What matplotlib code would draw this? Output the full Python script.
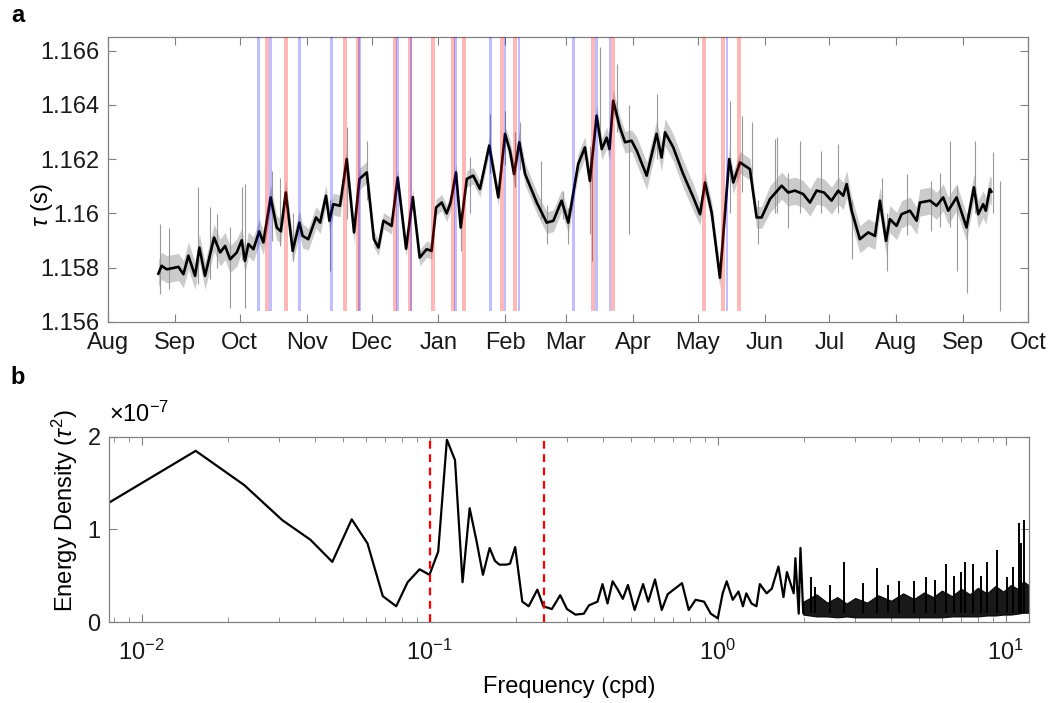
import numpy as np
import pandas as pd
import matplotlib
matplotlib.use('Agg')
import matplotlib.pyplot as plt
import matplotlib.dates as mdates
from matplotlib.ticker import LogLocator, NullFormatter

plt.rcParams['font.family'] = ['Liberation Sans', 'DejaVu Sans']
plt.rcParams['mathtext.fontset'] = 'custom'
plt.rcParams['mathtext.rm'] = 'Liberation Sans'
plt.rcParams['mathtext.it'] = 'Liberation Sans:italic'

# ---- panel a: smoothed tau (days since 2018-08-01) ----
tau_day = [23.3, 24.8, 27.2, 32.6, 34.9, 37.2, 40.3, 42.3, 44.9, 49.1, 51.9, 54.2, 56.5, 59.6,
           61.9, 63.4, 65.0, 67.3, 70.0, 71.9, 75.3, 78.1, 80.0, 82.3, 85.5, 88.6, 90.1, 92.7,
           96.3, 98.2, 100.9, 102.5, 104.3, 107.4, 110.5, 113.9, 116.4, 119.8, 123.1, 125.2,
           127.5, 131.3, 134.1, 138.0, 141.1, 144.3, 147.5, 149.8, 151.9, 154.5, 156.8, 158.6,
           161.1, 163.3, 166.1, 169.1, 172.2, 176.5, 180.7, 183.8, 186.1, 188.0, 190.4, 193.1,
           198.5, 203.1, 206.2, 210.0, 213.1, 217.7, 220.8, 223.1, 226.2, 228.6, 230.9, 232.2,
           233.9, 237.0, 239.4, 242.4, 244.8, 249.4, 254.0, 256.3, 257.9, 261.7, 266.3, 271.0,
           274.1, 276.4, 279.5, 283.3, 287.6, 289.5, 292.6, 297.2, 300.3, 302.6, 306.5, 311.9,
           314.9, 318.0, 321.9, 325.0, 328.1, 331.5, 335.0, 338.1, 340.4, 342.0, 344.3, 348.1,
           352.0, 355.1, 357.4, 360.2, 362.0, 365.1, 367.4, 371.3, 374.4, 375.9, 380.6, 383.6,
           386.7, 389.0, 392.9, 395.2, 397.5, 400.9, 402.9, 405.2, 406.4, 408.3, 409.0]
tau_val = [1.15778, 1.15807, 1.15794, 1.15803, 1.15776, 1.15844, 1.15770, 1.15874, 1.15770,
           1.15911, 1.15856, 1.15880, 1.15831, 1.15856, 1.15901, 1.15825, 1.15887, 1.15868,
           1.15934, 1.15893, 1.16059, 1.15948, 1.15934, 1.16077, 1.15862, 1.15966, 1.15917,
           1.15905, 1.15985, 1.15966, 1.16065, 1.15973, 1.16034, 1.16028, 1.16200, 1.15930,
           1.16127, 1.16151, 1.15905, 1.15874, 1.15973, 1.15954, 1.16132, 1.15870, 1.16060,
           1.15837, 1.15868, 1.15862, 1.16022, 1.16040, 1.16000, 1.16040, 1.16151, 1.15948,
           1.16127, 1.16139, 1.16090, 1.16250, 1.16059, 1.16293, 1.16231, 1.16145, 1.16262,
           1.16145, 1.16040, 1.15966, 1.15973, 1.16047, 1.15966, 1.16182, 1.16243, 1.16120,
           1.16360, 1.16237, 1.16279, 1.16237, 1.16415, 1.16317, 1.16262, 1.16268, 1.16231,
           1.16139, 1.16293, 1.16206, 1.16299, 1.16243, 1.16145, 1.16059, 1.15997, 1.16114,
           1.16003, 1.15763, 1.16200, 1.16114, 1.16188, 1.16163, 1.15985, 1.15985, 1.16053,
           1.16102, 1.16077, 1.16084, 1.16071, 1.16040, 1.16084, 1.16077, 1.16047, 1.16084,
           1.16065, 1.16108, 1.16010, 1.15905, 1.15930, 1.15917, 1.16047, 1.15899, 1.15979,
           1.15954, 1.15997, 1.16010, 1.15973, 1.16040, 1.16047, 1.16028, 1.16059, 1.16010,
           1.16059, 1.16003, 1.15948, 1.16096, 1.15997, 1.16034, 1.16010, 1.16090, 1.16080]

# typical scatter of the raw record, by calendar month (Jan..Dec)
grey_spread = [0.0003, 0.0004, 0.0004, 0.0005, 0.0004, 0.0005,
               0.0005, 0.0005, 0.0005, 0.00045, 0.0004, 0.0003]

# large excursions of the raw record
spike_day = [24.0, 28.0, 41.8, 47.0, 50.3, 56.5, 61.9, 63.4, 75.8, 79.6, 85.5, 102.8, 110.5,
             119.8, 163.3, 167.6, 176.9, 183.9, 188.4, 190.9, 200.6, 203.1, 210.6, 213.0,
             223.1, 223.9, 227.8, 235.5, 241.3, 254.0, 288.0, 293.4, 298.0, 301.0, 308.8,
             309.6, 314.8, 320.4, 330.0, 338.0, 344.3, 358.2, 360.5, 369.8, 381.0, 385.2,
             389.8, 392.9, 397.5, 401.4, 409.9, 413.0]
spike_lo = [1.15703, 1.15720, 1.15739, 1.15760, 1.15800, 1.15653, 1.15830, 1.15653, 1.15900,
            1.15880, 1.15825, 1.15788, 1.15980, 1.16050, 1.15862, 1.16000, 1.16150, 1.16180,
            1.16096, 1.16160, 1.15980, 1.15887, 1.15980, 1.15887, 1.15924, 1.15825, 1.16250,
            1.16300, 1.15924, 1.16200, 1.16000, 1.16080, 1.16080, 1.15888, 1.16000, 1.16000,
            1.15948, 1.16000, 1.16000, 1.16000, 1.15832, 1.15980, 1.15788, 1.15920, 1.15934,
            1.15950, 1.15950, 1.15788, 1.15708, 1.16000, 1.16000, 1.15641]
spike_hi = [1.15962, 1.15948, 1.16096, 1.16022, 1.15999, 1.15950, 1.16096, 1.16109, 1.16157,
            1.16132, 1.16000, 1.16050, 1.16317, 1.16268, 1.16000, 1.16206, 1.16366, 1.16379,
            1.16300, 1.16336, 1.16194, 1.16030, 1.16083, 1.16020, 1.16250, 1.16200, 1.16612,
            1.16552, 1.16400, 1.16441, 1.16415, 1.16360, 1.16335, 1.16050, 1.16275, 1.16280,
            1.16150, 1.16268, 1.16231, 1.16256, 1.16050, 1.16132, 1.16000, 1.16145, 1.16120,
            1.16150, 1.16268, 1.16100, 1.16000, 1.16268, 1.16225, 1.16120]

# event days (days since 2018-08-01)
red_day = [73.5, 82.3, 109.7, 115.6, 132.9, 139.8, 150.6, 159.6, 164.8, 182.3, 188.4,
           224.7, 233.9, 275.9, 284.9, 292.3]
blue_day = [69.6, 75.3, 88.6, 103.6, 116.3, 134.1, 140.3, 161.0, 177.2, 183.8, 190.3,
            215.4, 226.2, 232.4, 286.6]

# ---- panel b: spectrum (energy density in 1e-7 tau^2) ----
spec_f = [0.0077, 0.0154, 0.0227, 0.0308, 0.0385, 0.0459, 0.0536, 0.0608, 0.0687, 0.0765,
          0.0838, 0.0922, 0.0998, 0.107, 0.1147, 0.1224, 0.130, 0.1376, 0.1455, 0.153,
          0.1614, 0.1685, 0.1746, 0.184, 0.190, 0.198, 0.2096, 0.2206, 0.2364, 0.248,
          0.2654, 0.2838, 0.2996, 0.3207, 0.3428, 0.357, 0.3823, 0.398, 0.4143, 0.4315,
          0.4497, 0.468, 0.4877, 0.5145, 0.5505, 0.5736, 0.6056, 0.639, 0.670, 0.7025,
          0.7515, 0.793, 0.8375, 0.8964, 0.9456, 1.0, 1.04, 1.074, 1.127, 1.18,
          1.223, 1.256, 1.31, 1.362, 1.40, 1.478, 1.54, 1.624, 1.691, 1.738,
          1.835, 1.86, 1.91, 1.937, 1.98]
spec_v = [1.29, 1.85, 1.48, 1.10, 0.89, 0.65, 1.11, 0.85, 0.28, 0.17,
          0.43, 0.57, 0.51, 0.76, 1.97, 1.75, 0.43, 1.23, 0.87, 0.51,
          0.80, 0.66, 0.62, 0.62, 0.63, 0.81, 0.22, 0.17, 0.35, 0.17,
          0.14, 0.29, 0.14, 0.08, 0.09, 0.18, 0.22, 0.41, 0.20, 0.44,
          0.35, 0.25, 0.40, 0.13, 0.41, 0.22, 0.46, 0.13, 0.30, 0.35,
          0.42, 0.13, 0.24, 0.22, 0.09, 0.04, 0.31, 0.44, 0.24, 0.33,
          0.17, 0.31, 0.20, 0.17, 0.41, 0.31, 0.36, 0.60, 0.27, 0.54,
          0.31, 0.69, 0.09, 0.80, 0.10]

# dense high-frequency part: envelope and isolated peaks
band_f = [1.98, 2.2, 2.4, 2.6, 2.8, 3.0, 3.3, 3.6, 4.0, 4.4, 4.8, 5.2, 5.6, 6.0,
          6.5, 7.0, 7.5, 8.0, 8.6, 9.2, 9.8, 10.4, 11.0, 11.5, 12.0]
band_lo = [0.08, 0.06, 0.06, 0.05, 0.06, 0.05, 0.05, 0.05, 0.05, 0.05, 0.05, 0.05, 0.05,
           0.05, 0.06, 0.06, 0.06, 0.06, 0.07, 0.07, 0.08, 0.08, 0.09, 0.10, 0.10]
band_hi = [0.22, 0.30, 0.21, 0.27, 0.20, 0.26, 0.21, 0.29, 0.23, 0.31, 0.25, 0.32, 0.27,
           0.34, 0.28, 0.36, 0.30, 0.37, 0.31, 0.39, 0.33, 0.40, 0.36, 0.44, 0.40]
peak_f = [2.1, 2.17, 2.45, 2.75, 3.2, 3.56, 3.9, 4.25, 4.79, 5.27, 5.7, 6.2,
          6.6, 7.0, 7.19, 7.69, 8.2, 8.57, 9.3, 10.08, 10.6, 11.08, 11.3, 11.55]
peak_v = [0.49, 0.38, 0.40, 0.65, 0.42, 0.58, 0.40, 0.44, 0.44, 0.49, 0.45, 0.63,
          0.50, 0.54, 0.65, 0.63, 0.50, 0.65, 0.78, 0.49, 0.60, 1.07, 0.85, 1.10]

cutoff_f = [0.1, 0.25]

start = pd.Timestamp('2018-08-01')


def to_dates(days):
    return start + pd.to_timedelta(np.asarray(days), unit='D')


spine_col = '0.5'
fs = 17

fig = plt.figure(figsize=(10.51, 7.03), dpi=100)

# ---------------- panel a ----------------
ax1 = fig.add_axes([0.1028, 0.5420, 0.8754, 0.4054])
tau_dates = to_dates(tau_day)
tau_arr = np.array(tau_val)
spread = np.array([grey_spread[m - 1] for m in tau_dates.month])
ax1.fill_between(tau_dates, tau_arr - spread, tau_arr + spread,
                 color='0.55', alpha=0.45, lw=0, zorder=1)
ax1.vlines(to_dates(spike_day), spike_lo, spike_hi, color='0.6', lw=0.8, zorder=1)
ax1.plot(tau_dates, tau_arr, color='k', lw=1.9, zorder=2)

bar_bottom = 1.1564
bar_top = 1.1665
ax1.bar(to_dates(red_day), bar_top - bar_bottom, bottom=bar_bottom, width=1.9,
        color='red', alpha=0.28, lw=0, zorder=3)
ax1.bar(to_dates(blue_day), bar_top - bar_bottom, bottom=bar_bottom, width=1.3,
        color='blue', alpha=0.25, lw=0, zorder=3)

ax1.set_xlim(pd.Timestamp('2018-08-01'), pd.Timestamp('2019-10-01'))
ax1.set_ylim(1.156, 1.1665)
ax1.set_yticks([1.156, 1.158, 1.160, 1.162, 1.164, 1.166])
ax1.set_yticklabels(['1.156', '1.158', '1.16', '1.162', '1.164', '1.166'])
ax1.xaxis.set_major_locator(mdates.MonthLocator())
ax1.xaxis.set_major_formatter(mdates.DateFormatter('%b'))
ax1.set_ylabel(r'$\tau$ (s)', fontsize=fs)
ax1.yaxis.set_label_coords(-0.058, 0.41)

# ---------------- panel b ----------------
ax2 = fig.add_axes([0.1037, 0.1152, 0.8750, 0.2632])
ax2.set_xscale('log')
ax2.fill_between(band_f, band_lo, band_hi, color='k', lw=0.8, alpha=0.9, zorder=2)
ax2.vlines(peak_f, 0.1, peak_v, color='k', lw=1.4, zorder=2)
ax2.plot(spec_f, spec_v, color='k', lw=1.6, zorder=2)
for f in cutoff_f:
    ax2.axvline(f, color='red', lw=1.6, ls=(0, (3.5, 2.5)), zorder=3)

ax2.set_xlim(0.0077, 12)
ax2.set_ylim(0, 2)
ax2.set_yticks([0, 1, 2])
ax2.set_yticklabels(['0', '1', '2'])
ax2.xaxis.set_major_locator(LogLocator(base=10, numticks=10))
ax2.xaxis.set_minor_locator(LogLocator(base=10, subs=np.arange(2, 10), numticks=20))
ax2.xaxis.set_minor_formatter(NullFormatter())
ax2.set_xlabel('Frequency (cpd)', fontsize=fs)
ax2.xaxis.set_label_coords(0.5, -0.29)
ax2.set_ylabel(r'Energy Density ($\tau^2$)', fontsize=fs)
ax2.yaxis.set_label_coords(-0.031, 0.6)
ax2.text(0.0, 1.12, r'$\times$10$^{-7}$', transform=ax2.transAxes,
         fontsize=fs, ha='left', va='center')

for ax in (ax1, ax2):
    for s in ax.spines.values():
        s.set_color(spine_col)
        s.set_linewidth(0.9)
    ax.tick_params(which='both', direction='in', top=True, right=True,
                   color=spine_col, labelsize=fs, labelcolor='0.1')
    ax.tick_params(which='major', length=6)
    ax.tick_params(which='minor', length=3.5)

ax1.tick_params(axis='x', pad=7)
ax1.tick_params(axis='y', pad=6)
ax2.tick_params(axis='x', which='major', pad=13)
ax2.tick_params(axis='y', pad=6)

fig.text(18 / 1051, 1 - 16 / 703, 'a', fontsize=17, fontweight='bold', ha='center', va='center')
fig.text(18 / 1051, 1 - 378 / 703, 'b', fontsize=17, fontweight='bold', ha='center', va='center')

fig.savefig('out.png', dpi=100)
